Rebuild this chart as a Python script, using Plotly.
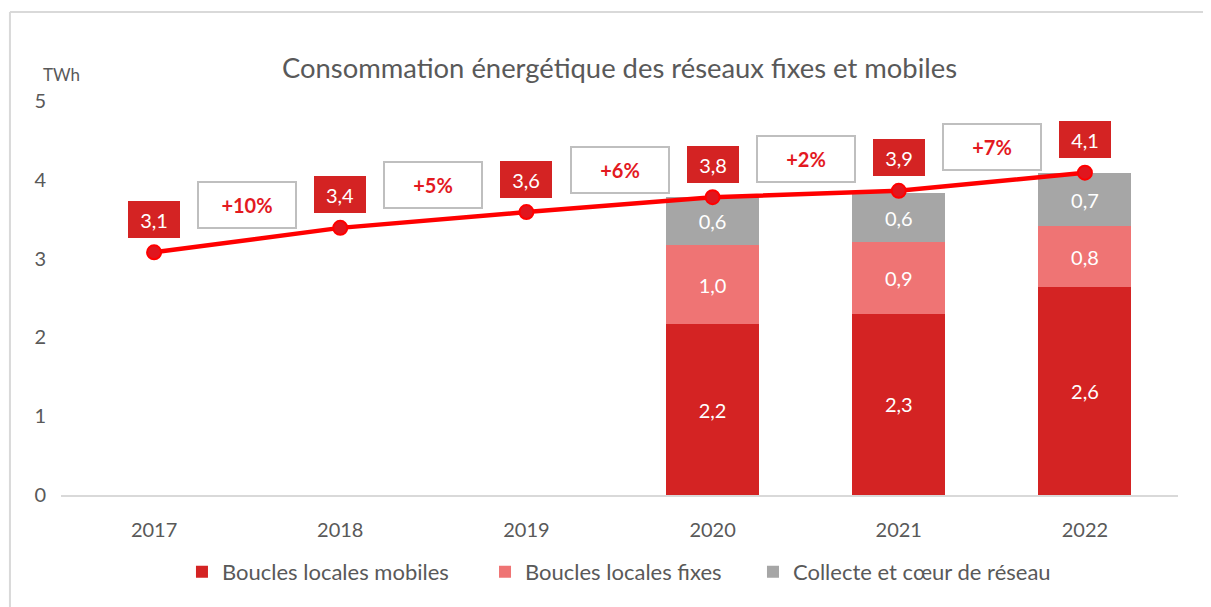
import plotly.graph_objects as go

# Données (TWh)
annees = ["2017", "2018", "2019", "2020", "2021", "2022"]
annees_detail = ["2020", "2021", "2022"]
boucles_mobiles = [2.17, 2.30, 2.64]
boucles_fixes = [1.00, 0.91, 0.77]
collecte_coeur = [0.61, 0.62, 0.68]
total = [3.08, 3.39, 3.59, 3.78, 3.86, 4.09]
evolution = ["+10%", "+5%", "+6%", "+2%", "+7%"]

ROUGE = "#D42323"
ROSE = "#EF7474"
GRIS = "#A6A6A6"
TEXTE = "#595959"
POLICE = "Lato"


def fr(v):
    return f"{v:.1f}".replace(".", ",")


fig = go.Figure()

series = [
    ("Boucles locales mobiles", boucles_mobiles, ROUGE, "legend", 0.1083),
    ("Boucles locales fixes", boucles_fixes, ROSE, "legend2", 0.3796),
    ("Collecte et cœur de réseau", collecte_coeur, GRIS, "legend3", 0.6195),
]
for nom, vals, coul, leg, _ in series:
    fig.add_trace(go.Bar(
        name=nom, x=annees_detail, y=vals, marker=dict(color=coul, line=dict(width=0)),
        text=[fr(v) for v in vals], textposition="inside", insidetextanchor="middle",
        textfont=dict(color="white", size=20, family=POLICE), width=0.5,
        hoverinfo="skip", legend=leg,
    ))

fig.add_trace(go.Scatter(
    x=annees, y=total, mode="lines+markers", showlegend=False,
    line=dict(color="#FF0000", width=4.5),
    marker=dict(size=14, color="#E0161E", line=dict(color="#FF0000", width=2)),
))

# Étiquettes du total
for i, v in enumerate(total):
    fig.add_annotation(
        x=i, y=v, text=fr(v), showarrow=False, yshift=33,
        bgcolor=ROUGE, bordercolor=ROUGE, borderwidth=0, borderpad=2,
        width=48, height=33, font=dict(color="white", size=20, family=POLICE),
    )

# Évolutions annuelles
for i, txt in enumerate(evolution):
    fig.add_annotation(
        x=i + 0.5, y=(total[i] + total[i + 1]) / 2, text="<b>" + txt + "</b>",
        showarrow=False, yshift=35, bgcolor="white", bordercolor="#BFBFBF",
        borderwidth=2, borderpad=2, width=92, height=40,
        font=dict(color="#E3191F", size=20, family=POLICE),
    )

fig.add_annotation(
    x=-0.0179, y=1.099, xref="paper", yref="paper", text="TWh", showarrow=False,
    font=dict(color=TEXTE, size=17, family=POLICE),
)

# Cadre (bords haut et gauche)
fig.add_shape(type="line", xref="paper", yref="paper", x0=-0.0457, x1=1.04, y0=1.2259, y1=1.2259,
              line=dict(color="#D9D9D9", width=2))
fig.add_shape(type="line", xref="paper", yref="paper", x0=-0.0457, x1=-0.0457, y0=1.2259, y1=-0.3,
              line=dict(color="#D9D9D9", width=2))

legendes = {}
for nom, vals, coul, leg, xpos in series:
    legendes[leg] = dict(orientation="h", x=xpos, xanchor="left", y=-0.195, yanchor="middle",
                         font=dict(size=22, color=TEXTE, family=POLICE), itemwidth=30,
                         bgcolor="rgba(0,0,0,0)")

fig.update_layout(
    width=1211, height=607,
    margin=dict(l=53, r=41, t=93, b=120, autoexpand=False),
    barmode="stack",
    plot_bgcolor="white", paper_bgcolor="white",
    font=dict(family=POLICE, color=TEXTE),
    title=dict(text="Consommation énergétique des réseaux fixes et mobiles",
               x=0.5, xref="paper", y=1 - 60 / 607, yanchor="middle",
               font=dict(size=27.4, color=TEXTE, family=POLICE)),
    xaxis=dict(type="category", categoryorder="array", categoryarray=annees,
               range=[-0.5, 5.5], autorange=False,
               showline=True, linecolor="#D9D9D9", linewidth=2, showgrid=False,
               ticks="", tickfont=dict(size=20, color=TEXTE), ticklabelstandoff=16),
    yaxis=dict(range=[0, 5], autorange=False, dtick=1, showgrid=False, zeroline=False,
               showline=False, ticks="", tickfont=dict(size=20, color=TEXTE),
               ticklabelstandoff=14),
    showlegend=True,
    **legendes,
)

fig.write_html("out.html")
